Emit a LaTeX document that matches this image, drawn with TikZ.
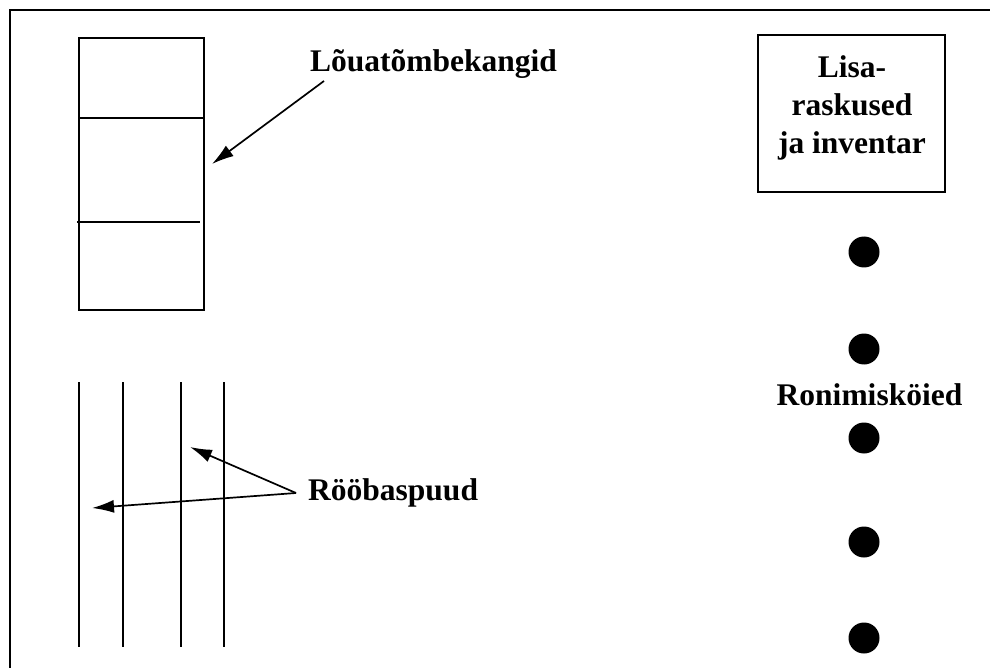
\documentclass[tikz,border=0pt]{standalone}
\usepackage{fontspec}
\setmainfont{Liberation Serif}
\usetikzlibrary{arrows.meta}
\tikzset{
  lbl/.style={inner sep=0pt, font=\bfseries\fontsize{31.5}{38}\selectfont},
  ptr/.style={line width=1.7pt, -{Latex[length=22pt,width=13pt]}},
  dot/.style={circle, fill=black, minimum size=31pt, inner sep=0pt}
}
\begin{document}
\begin{tikzpicture}[x=1pt, y=-1pt]
      \useasboundingbox (0, 0) rectangle (990, 668);
      \draw[line width=1.6pt] (10, 700) -- (10, 10) -- (1000, 10);
      \draw[line width=2.8pt] (79, 38) rectangle (204, 310);
      \draw[line width=1.7pt] (80, 118) -- (204, 118);
      \draw[line width=1.7pt] (77, 222) -- (200, 222);
      \foreach \x in {79, 123, 181, 224}
        \draw[line width=2.4pt] (\x, 382) -- (\x, 647);
      \node[lbl, anchor=base west] (bars) at (310, 72) {Lõuatõmbekangid};
      \coordinate (barstip) at (212, 164);
      \draw[ptr] ([xshift=14pt, yshift=-9pt]bars.base west) -- (barstip);
      \node[lbl, anchor=base west] (rails) at (308, 500) {Rööbaspuud};
      \coordinate (railsfrom) at (296, 493);
      \coordinate (railstip1) at (190, 447);
      \coordinate (railstip2) at (92, 508);
      \draw[ptr] (railsfrom) -- (railstip1);
      \draw[ptr] (railsfrom) -- (railstip2);
      \node[draw, line width=1.6pt, minimum width=187pt, minimum height=157pt] (extra) at (851.5, 113.5) {};
      \node[lbl, align=center, anchor=north] (extratxt) at (852, 55) {Lisa-\\raskused\\ja inventar};
      \node[dot] (d1) at (864, 252) {};
      \node[dot] (d2) at (864, 349) {};
      \node[dot] (d3) at (864, 438) {};
      \node[dot] (d4) at (864, 542) {};
      \node[dot] (d5) at (864, 638) {};
      \node[lbl, anchor=base] (ropes) at (869.5, 405) {Ronimisköied};
    \end{tikzpicture}
\end{document}
